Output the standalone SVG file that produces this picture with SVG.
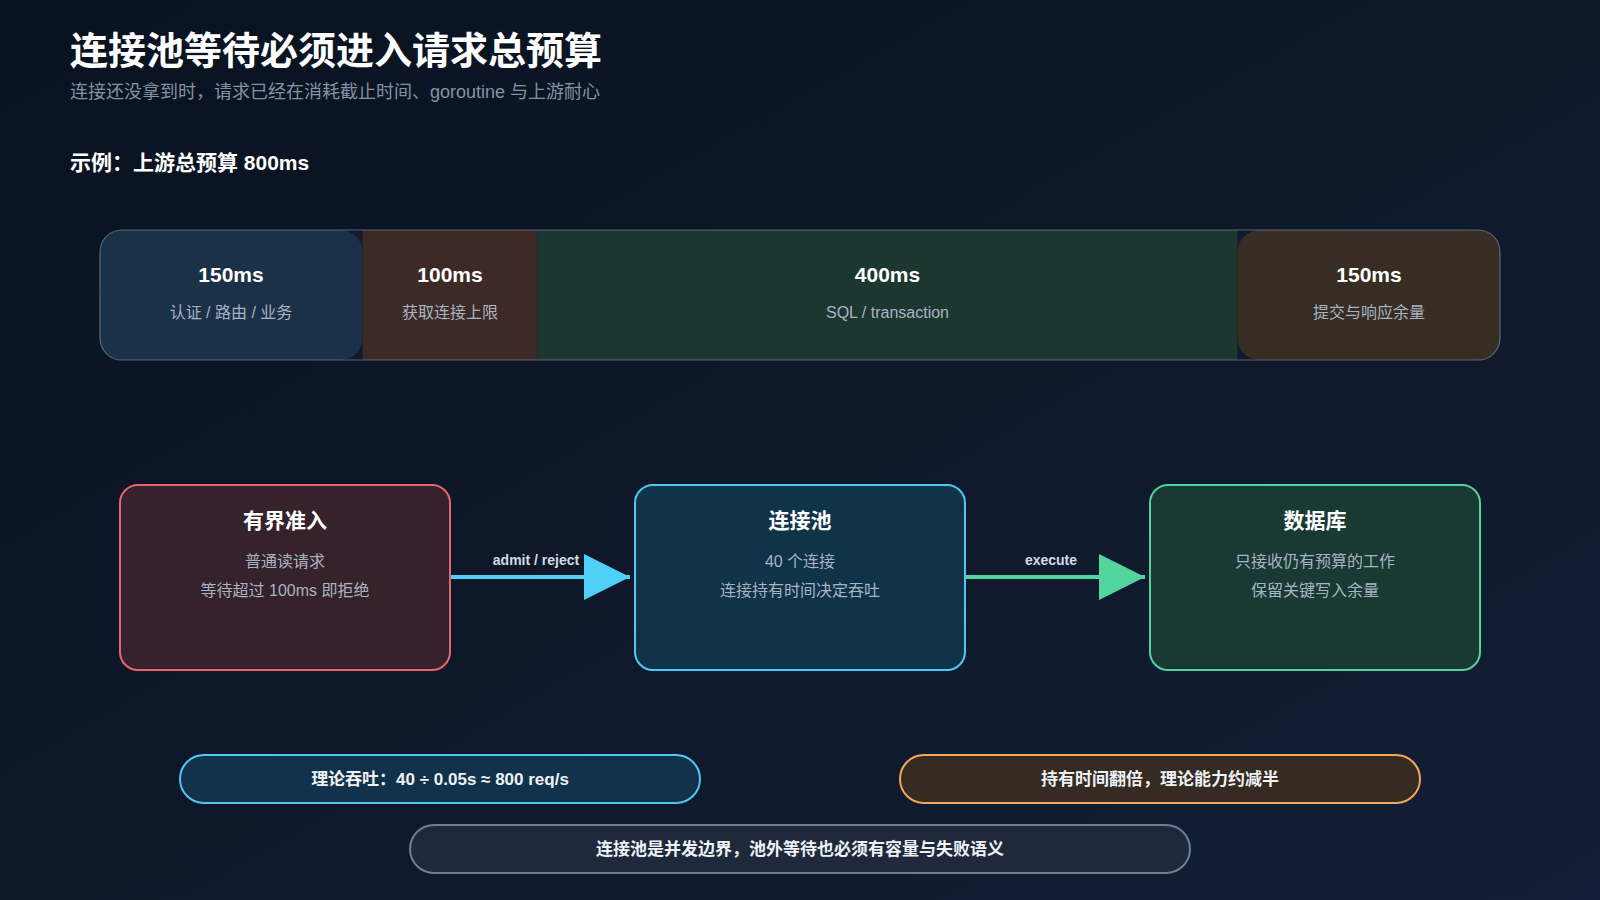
<svg xmlns="http://www.w3.org/2000/svg" width="1600" height="900" viewBox="0 0 1600 900">
<defs>
<linearGradient id="bg" x1="0" y1="0" x2="1" y2="1">
<stop offset="0" stop-color="#09121f"/>
<stop offset="0.5" stop-color="#0e1829"/>
<stop offset="1" stop-color="#141e36"/>
</linearGradient>
<marker id="ahCyan" viewBox="0 0 10 10" refX="10" refY="5" markerUnits="userSpaceOnUse" markerWidth="48" markerHeight="46" orient="auto"><path d="M0,0 L10,5 L0,10 z" fill="#4fd0f7"/></marker>
<marker id="ahGreen" viewBox="0 0 10 10" refX="10" refY="5" markerUnits="userSpaceOnUse" markerWidth="48" markerHeight="46" orient="auto"><path d="M0,0 L10,5 L0,10 z" fill="#52d69e"/></marker>
<style>
text{font-family:"Liberation Sans","Noto Sans CJK SC",sans-serif}
.title{font-size:38px;font-weight:700;fill:#ffffff}
.sub{font-size:18px;fill:#8592a6}
.ex{font-size:21px;font-weight:700;fill:#ffffff}
.segT{font-size:21px;font-weight:700;fill:#ffffff;text-anchor:middle}
.segS{font-size:16px;fill:#a9b4c3;text-anchor:middle}
.nodeT{font-size:21px;font-weight:700;fill:#ffffff;text-anchor:middle}
.nodeS{font-size:16px;fill:#a9b4c3;text-anchor:middle}
.lbl{font-size:14px;font-weight:700;fill:#d3dbe5;text-anchor:middle}
.pillT{font-size:17px;font-weight:700;fill:#eef2f7;text-anchor:middle}
</style>
</defs>
<rect width="1600" height="900" fill="url(#bg)"/>

<g id="header">
<text class="title" x="70" y="64">连接池等待必须进入请求总预算</text>
<text class="sub" x="70" y="98">连接还没拿到时，请求已经在消耗截止时间、goroutine 与上游耐心</text>
<text class="ex" x="70" y="170">示例：上游总预算 800ms</text>
</g>

<g id="budget-bar">
<rect x="100" y="230" width="1400" height="130" rx="22" fill="#0f1b2c"/>
<g id="seg-150-a">
<rect x="100" y="230" width="262.5" height="130" rx="22" fill="#1b3148"/>
<text class="segT" x="231" y="282">150ms</text>
<text class="segS" x="231" y="318">认证 / 路由 / 业务</text>
</g>
<g id="seg-100">
<rect x="362.5" y="230" width="175" height="130" fill="#3d2a27"/>
<text class="segT" x="450" y="282">100ms</text>
<text class="segS" x="450" y="318">获取连接上限</text>
</g>
<g id="seg-400">
<rect x="537.5" y="230" width="700" height="130" fill="#1c3630"/>
<text class="segT" x="887.5" y="282">400ms</text>
<text class="segS" x="887.5" y="318">SQL / transaction</text>
</g>
<g id="seg-150-b">
<rect x="1237.5" y="230" width="262.5" height="130" rx="22" fill="#372d22"/>
<text class="segT" x="1369" y="282">150ms</text>
<text class="segS" x="1369" y="318">提交与响应余量</text>
</g>
<rect x="100" y="230" width="1400" height="130" rx="22" fill="none" stroke="#8aa0bd" stroke-opacity="0.55" stroke-width="1.2"/>
</g>

<g id="connectors">
<line x1="450" y1="577" x2="630" y2="577" stroke="#4fd0f7" stroke-width="4" marker-end="url(#ahCyan)"/>
<text class="lbl" x="536" y="565">admit / reject</text>
<line x1="965" y1="577" x2="1145" y2="577" stroke="#52d69e" stroke-width="4" marker-end="url(#ahGreen)"/>
<text class="lbl" x="1051" y="565">execute</text>
</g>

<g id="node-admission">
<rect x="120" y="485" width="330" height="185" rx="18" fill="#35222a" stroke="#e8646f" stroke-width="2"/>
<text class="nodeT" x="285" y="528">有界准入</text>
<text class="nodeS" x="285" y="567">普通读请求</text>
<text class="nodeS" x="285" y="596">等待超过 100ms 即拒绝</text>
</g>

<g id="node-pool">
<rect x="635" y="485" width="330" height="185" rx="18" fill="#0f3348" stroke="#4fc9f0" stroke-width="2"/>
<text class="nodeT" x="800" y="528">连接池</text>
<text class="nodeS" x="800" y="567">40 个连接</text>
<text class="nodeS" x="800" y="596">连接持有时间决定吞吐</text>
</g>

<g id="node-db">
<rect x="1150" y="485" width="330" height="185" rx="18" fill="#183a33" stroke="#52d39c" stroke-width="2"/>
<text class="nodeT" x="1315" y="528">数据库</text>
<text class="nodeS" x="1315" y="567">只接收仍有预算的工作</text>
<text class="nodeS" x="1315" y="596">保留关键写入余量</text>
</g>

<g id="pill-throughput">
<rect x="180" y="755" width="520" height="48" rx="24" fill="#11324a" stroke="#4fc9f0" stroke-width="2"/>
<text class="pillT" x="440" y="785">理论吞吐：40 ÷ 0.05s ≈ 800 req/s</text>
</g>

<g id="pill-hold">
<rect x="900" y="755" width="520" height="48" rx="24" fill="#352b20" stroke="#f1a95b" stroke-width="2"/>
<text class="pillT" x="1160" y="785">持有时间翻倍，理论能力约减半</text>
</g>

<g id="pill-boundary">
<rect x="410" y="825" width="780" height="48" rx="24" fill="#1e2a3b" stroke="#6d7f95" stroke-width="2"/>
<text class="pillT" x="800" y="855">连接池是并发边界，池外等待也必须有容量与失败语义</text>
</g>
</svg>
